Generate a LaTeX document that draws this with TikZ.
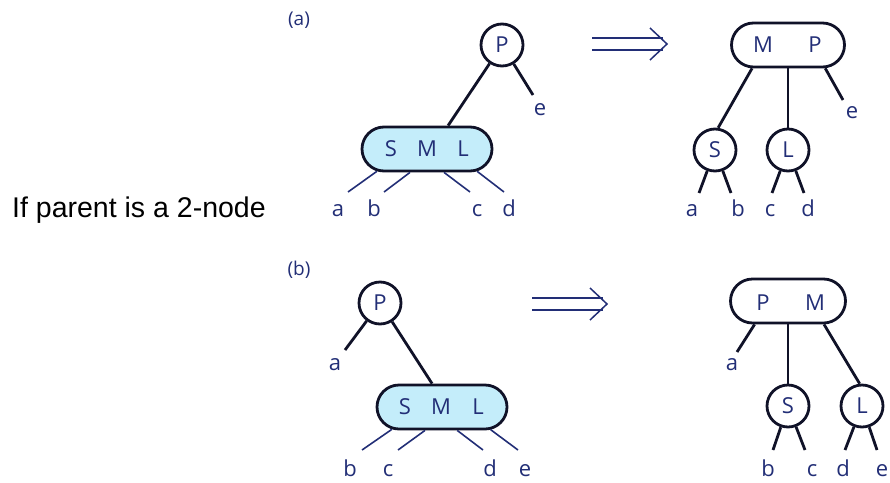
\documentclass[tikz,border=0pt]{standalone}
\usepackage{fontspec}
\setmainfont{Open Sans}
\newfontfamily\arialfont{Liberation Sans}
\usetikzlibrary{shapes.misc}
\definecolor{ink}{RGB}{34,46,118}
\definecolor{edgeink}{RGB}{16,18,40}
\definecolor{keyfill}{RGB}{196,237,250}
\begin{document}
\begin{tikzpicture}[x=1pt,y=-1pt,
    knode/.style={circle,draw=edgeink,line width=2.8pt,minimum size=42pt,inner sep=0pt,
      text=ink,font=\fontsize{22}{22}\selectfont},
    bnode/.style={rounded rectangle,draw=edgeink,line width=2.8pt,minimum width=#1,
      minimum height=44pt,inner sep=0pt},
    keytxt/.style={text=ink,inner sep=0pt,font=\fontsize{22}{22}\selectfont},
    lbl/.style={text=ink,inner sep=0pt,anchor=base,font=\fontsize{22}{22}\selectfont},
    tag/.style={text=ink,inner sep=0pt,anchor=base,font=\fontsize{19}{19}\selectfont},
    tree/.style={draw=edgeink,line width=2.8pt},
    twig/.style={draw=ink,line width=1.6pt},
    impl/.style={draw=ink,line width=1.5pt}]
  \useasboundingbox (0,0) rectangle (890,482);
  \node[anchor=base west,inner sep=0pt,font=\arialfont\fontsize{28.5}{28.5}\selectfont] (txt) at (12,217) {If parent is a 2-node};
  \node[tag] (taga) at (299,25) {(a)};
  \node[tag] (tagb) at (299,275) {(b)};

  % (a) before
  \node[knode] (p1) at (502,45) {P};
  \node[bnode=130pt,fill=keyfill] (sml1) at (427,149) {};
  \node[keytxt] (s1t) at (391,149) {S};
  \node[keytxt] (m1t) at (427,149) {M};
  \node[keytxt] (l1t) at (463,149) {L};
  \coordinate (e1x) at (533,95);
  \coordinate (a1x) at (348,192);
  \coordinate (b1x) at (384,192);
  \coordinate (c1x) at (470,192);
  \coordinate (d1x) at (504,192);
  \draw[tree] (p1) -- (sml1.48);
  \draw[tree] (p1) -- (e1x);
  \draw[twig] (sml1.204) -- (a1x);
  \draw[twig] (sml1.234) -- (b1x);
  \draw[twig] (sml1.306) -- (c1x);
  \draw[twig] (sml1.336) -- (d1x);
  \node[lbl] (e1) at (540,115) {e};
  \node[lbl] (a1) at (338,216) {a};
  \node[lbl] (b1) at (374,216) {b};
  \node[lbl] (c1) at (477,216) {c};
  \node[lbl] (d1) at (509,216) {d};

  % arrow (a)
  \coordinate (arra) at (592,44);
  \draw[impl] (arra) ++(0,-6) -- ++(71,0);
  \draw[impl] (arra) ++(0,6) -- ++(71,0);
  \draw[impl,line join=miter] (arra) ++(58,-16) -- ++(17,16) -- ++(-17,16);

  % (a) after
  \node[bnode=113pt] (mp1) at (788,45) {};
  \node[keytxt] (m2t) at (763,45) {M};
  \node[keytxt] (p2t) at (815,45) {P};
  \node[knode] (s1) at (715,150) {S};
  \node[knode] (l1) at (788,150) {L};
  \coordinate (e2x) at (843,100);
  \coordinate (a2x) at (699,193);
  \coordinate (b2x) at (731,193);
  \coordinate (c2x) at (772,193);
  \coordinate (d2x) at (804,193);
  \draw[tree] (mp1.213) -- (s1.82);
  \draw[tree] (mp1.south) -- (l1);
  \draw[tree] (mp1.-32) -- (e2x);
  \draw[tree] (s1) -- (a2x);
  \draw[tree] (s1) -- (b2x);
  \draw[tree] (l1) -- (c2x);
  \draw[tree] (l1) -- (d2x);
  \node[lbl] (e2) at (852,118) {e};
  \node[lbl] (a2) at (692,216) {a};
  \node[lbl] (b2) at (738,216) {b};
  \node[lbl] (c2) at (770,216) {c};
  \node[lbl] (d2) at (808,216) {d};

  % (b) before
  \node[knode] (p3) at (380,303) {P};
  \node[bnode=130pt,fill=keyfill] (sml2) at (442,407) {};
  \node[keytxt] (s3t) at (405,407) {S};
  \node[keytxt] (m3t) at (441,407) {M};
  \node[keytxt] (l3t) at (478,407) {L};
  \coordinate (a3x) at (345,350);
  \coordinate (b3x) at (362,450);
  \coordinate (c3x) at (398,450);
  \coordinate (d3x) at (483,450);
  \coordinate (e3x) at (518,450);
  \draw[tree] (p3) -- (a3x);
  \draw[tree] (p3) -- (sml2.113);
  \draw[twig] (sml2.204) -- (b3x);
  \draw[twig] (sml2.234) -- (c3x);
  \draw[twig] (sml2.303) -- (d3x);
  \draw[twig] (sml2.335) -- (e3x);
  \node[lbl] (a3) at (335,370) {a};
  \node[lbl] (b3) at (350,476) {b};
  \node[lbl] (c3) at (388,476) {c};
  \node[lbl] (d3) at (490,476) {d};
  \node[lbl] (e3) at (525,476) {e};

  % arrow (b)
  \coordinate (arrb) at (532,304);
  \draw[impl] (arrb) ++(0,-6) -- ++(71,0);
  \draw[impl] (arrb) ++(0,6) -- ++(71,0);
  \draw[impl,line join=miter] (arrb) ++(58,-16) -- ++(17,16) -- ++(-17,16);

  % (b) after
  \node[bnode=115pt] (pm2) at (788,301) {};
  \node[keytxt] (p4t) at (763,303) {P};
  \node[keytxt] (m4t) at (815,303) {M};
  \node[knode] (s2) at (788,406) {S};
  \node[knode] (l2) at (862,406) {L};
  \coordinate (a4x) at (737,352);
  \coordinate (b4x) at (773,450);
  \coordinate (c4x) at (805,450);
  \coordinate (d4x) at (845,450);
  \coordinate (e4x) at (877,450);
  \draw[tree] (pm2.215) -- (a4x);
  \draw[tree] (pm2.south) -- (s2);
  \draw[tree] (pm2.-33) -- (l2.96);
  \draw[tree] (s2) -- (b4x);
  \draw[tree] (s2) -- (c4x);
  \draw[tree] (l2) -- (d4x);
  \draw[tree] (l2) -- (e4x);
  \node[lbl] (a4) at (732,370) {a};
  \node[lbl] (b4) at (768,476) {b};
  \node[lbl] (c4) at (812,476) {c};
  \node[lbl] (d4) at (843,476) {d};
  \node[lbl] (e4) at (882,476) {e};
\end{tikzpicture}
\end{document}
